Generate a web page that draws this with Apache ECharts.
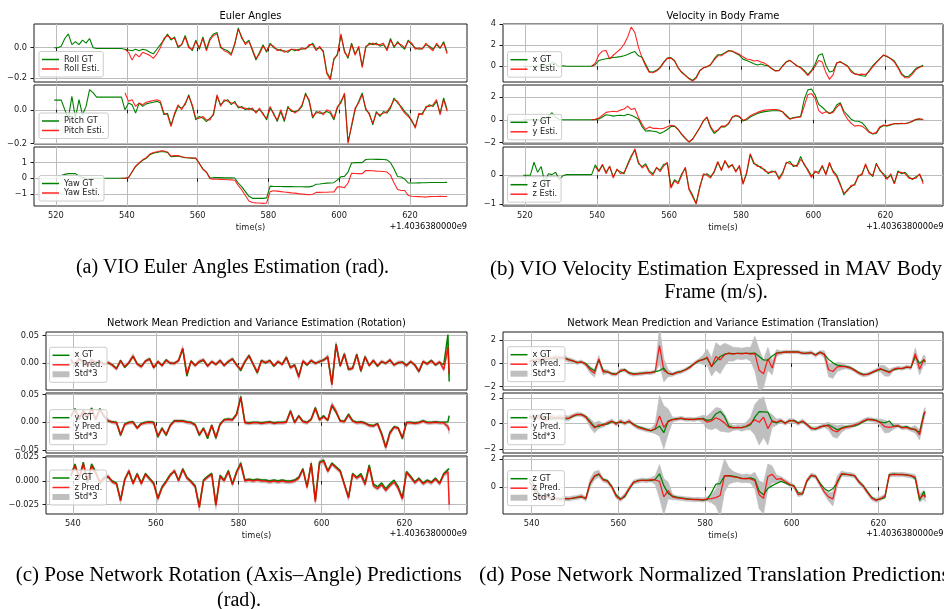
<!DOCTYPE html>
<html>
<head>
<meta charset="utf-8">
<script src="https://cdn.jsdelivr.net/npm/echarts@6/dist/echarts.min.js"></script>
<style>
  html, body { margin: 0; padding: 0; background: #ffffff; }
  #chart { width: 944px; height: 609px; }
</style>
</head>
<body>
<div id="chart"></div>
<script>
// ---------------------------------------------------------------------------
// Sample times (seconds, offset by 1.4036380000e9)
// ---------------------------------------------------------------------------
const timeVIO = Array.from({ length: 112 }, (_, i) => 519.5 + i);           // 519.5 … 630.5
const timeNet = Array.from({ length: 92 }, (_, i) => 539.5 + i).concat([630.8]); // 539.5 … 630.8

const xTicksVIO = [520, 540, 560, 580, 600, 620];
const xTicksNet = [540, 560, 580, 600, 620];
const NA = null;

// ---------------------------------------------------------------------------
// (a) Euler angles [rad]
// ---------------------------------------------------------------------------
const rollGT = [
  0.00, 0.00, 0.01, 0.06, 0.09, 0.02, 0.04, 0.02, 0.05, 0.03,
  0.06, 0.00, -0.005, -0.005, -0.005, -0.005, -0.005, -0.005, -0.005, -0.005,
  -0.01, -0.015, -0.02, -0.01, -0.02, -0.01, -0.015, -0.03, -0.04, -0.01,
  0.02, 0.05, 0.09, 0.05, 0.07, 0.00, 0.02, 0.08, 0.01, -0.02,
  0.05, -0.01, 0.07, -0.01, 0.06, 0.09, 0.10, 0.00, -0.01, -0.02,
  -0.04, 0.02, 0.13, 0.06, 0.03, 0.05, -0.02, -0.08, -0.03, 0.02,
  -0.03, 0.03, 0.00, -0.01, -0.02, -0.02, -0.03, -0.01, -0.02, -0.01,
  -0.01, -0.005, 0.01, 0.03, -0.01, 0.00, -0.02, -0.16, -0.20, -0.08,
  -0.04, 0.08, -0.02, -0.07, 0.03, -0.04, 0.00, -0.12, 0.00, 0.03,
  0.02, 0.03, 0.01, 0.02, -0.01, 0.06, 0.00, 0.04, 0.01, -0.01,
  0.05, 0.02, 0.00, -0.01, -0.005, 0.02, 0.01, -0.01, 0.02, -0.005,
  0.04, -0.03
];
const rollEst = [
  NA, NA, NA, NA, NA, NA, NA, NA, NA, NA,
  NA, NA, NA, NA, NA, NA, NA, NA, NA, NA,
  -0.01, -0.03, -0.08, -0.04, -0.06, -0.03, -0.04, -0.05, -0.07, -0.04,
  0.00, 0.06, 0.08, 0.06, 0.06, 0.01, 0.02, 0.07, 0.00, -0.01,
  0.04, 0.00, 0.06, -0.02, 0.05, 0.08, 0.09, 0.01, -0.02, -0.03,
  -0.05, 0.03, 0.12, 0.07, 0.02, 0.04, -0.01, -0.07, -0.04, 0.01,
  -0.02, 0.02, 0.01, -0.02, -0.01, -0.03, -0.02, -0.01, -0.01, -0.02,
  0.00, -0.01, 0.02, 0.02, -0.02, 0.01, -0.03, -0.17, -0.21, -0.07,
  -0.05, 0.09, -0.03, -0.06, 0.02, -0.05, 0.01, -0.13, 0.01, 0.02,
  0.03, 0.02, 0.02, 0.03, -0.02, 0.05, 0.01, 0.03, 0.02, 0.00,
  0.04, 0.03, -0.01, 0.00, -0.01, 0.03, 0.00, -0.02, 0.03, 0.00,
  0.03, -0.04
];
const pitchGT = [
  0.057, 0.057, 0.057, 0.00, -0.05, 0.08, -0.05, 0.06, -0.03, 0.02,
  0.12, 0.10, 0.075, 0.075, 0.075, 0.075, 0.075, 0.075, 0.075, 0.075,
  0.00, 0.04, 0.03, -0.02, 0.04, 0.02, 0.035, 0.04, 0.045, 0.05,
  0.04, -0.03, -0.02, -0.09, -0.03, 0.02, 0.01, 0.03, 0.09, 0.02,
  -0.06, -0.04, -0.05, -0.07, -0.05, -0.03, 0.08, 0.03, 0.05, 0.06,
  0.03, 0.05, 0.01, 0.02, 0.00, 0.01, 0.00, -0.01, 0.00, -0.02,
  -0.06, 0.01, -0.02, -0.07, -0.01, -0.07, 0.02, -0.01, -0.01, -0.005,
  0.02, 0.10, 0.05, -0.05, -0.01, -0.02, -0.02, -0.01, -0.02, -0.06,
  0.01, 0.05, 0.09, -0.19, -0.10, 0.00, 0.05, 0.10, 0.00, -0.02,
  -0.09, -0.01, -0.04, -0.01, -0.02, 0.01, 0.07, 0.04, 0.02, -0.01,
  -0.03, -0.07, -0.10, -0.03, -0.02, 0.01, 0.03, 0.02, 0.05, -0.02,
  0.07, 0.00
];
const pitchEst = [
  NA, NA, NA, NA, NA, NA, NA, NA, NA, NA,
  NA, NA, NA, NA, NA, NA, NA, NA, NA, NA,
  0.10, 0.05, 0.06, 0.02, 0.04, 0.03, 0.045, 0.05, 0.055, 0.06,
  0.05, -0.02, -0.03, -0.10, -0.02, 0.03, 0.00, 0.04, 0.08, 0.03,
  -0.05, -0.05, -0.04, -0.06, -0.06, -0.02, 0.09, 0.02, 0.06, 0.05,
  0.04, 0.04, 0.02, 0.01, 0.01, 0.00, 0.01, -0.02, 0.01, -0.03,
  -0.05, 0.02, -0.03, -0.06, 0.00, -0.06, 0.01, 0.00, -0.02, 0.00,
  0.03, 0.09, 0.06, -0.04, -0.02, -0.01, -0.03, 0.00, -0.01, -0.05,
  0.02, 0.04, 0.10, -0.20, -0.09, 0.01, 0.04, 0.09, 0.01, -0.03,
  -0.08, -0.02, -0.03, -0.02, -0.01, 0.02, 0.06, 0.05, 0.01, -0.02,
  -0.04, -0.06, -0.11, -0.02, -0.03, 0.02, 0.02, 0.03, 0.06, -0.03,
  0.06, -0.01
];
const yawGT = [
  0.17, 0.17, 0.17, 0.25, 0.30, 0.30, 0.30, 0.15, 0.05, 0.00,
  0.00, 0.00, 0.00, 0.00, 0.00, 0.00, 0.00, 0.00, 0.00, 0.00,
  0.00, 0.05, 0.40, 0.75, 0.95, 1.15, 1.28, 1.50, 1.60, 1.65,
  1.70, 1.70, 1.65, 1.38, 1.40, 1.42, 1.36, 1.31, 1.30, 1.29,
  1.28, 0.95, 0.60, 0.40, 0.02, 0.04, 0.04, 0.04, 0.03, 0.03,
  0.03, 0.02, -0.30, -0.55, -0.85, -1.15, -1.28, -1.28, -1.28, -1.28,
  -1.25, -0.50, -0.52, -0.52, -0.52, -0.53, -0.53, -0.53, -0.54, -0.54,
  -0.54, -0.55, -0.55, -0.50, -0.38, -0.36, -0.33, -0.31, -0.30, -0.28,
  -0.10, 0.10, 0.12, 0.40, 0.98, 1.00, 1.00, 1.00, 1.20, 1.22,
  1.22, 1.21, 1.21, 1.20, 1.18, 1.00, 0.60, 0.12, 0.08, -0.05,
  -0.30, -0.30, -0.30, -0.29, -0.28, -0.28, -0.27, -0.27, -0.27, -0.27,
  -0.27, -0.26
];
const yawEst = [
  NA, NA, NA, NA, NA, NA, NA, NA, NA, NA,
  NA, NA, NA, NA, NA, NA, NA, NA, NA, 0.00,
  0.00, 0.05, 0.42, 0.78, 1.00, 1.18, 1.32, 1.55, 1.65, 1.70,
  1.75, 1.75, 1.68, 1.42, 1.45, 1.45, 1.38, 1.33, 1.31, 1.30,
  1.29, 0.95, 0.58, 0.38, -0.02, -0.05, -0.06, -0.07, -0.08, -0.09,
  -0.10, -0.12, -0.45, -0.75, -1.10, -1.45, -1.55, -1.57, -1.58, -1.60,
  -1.58, -0.85, -0.80, -0.82, -0.85, -0.88, -0.90, -0.93, -0.95, -0.98,
  -1.00, -1.03, -1.05, -1.02, -0.90, -0.90, -0.89, -0.89, -0.88, -0.88,
  -0.55, -0.55, -0.60, -0.30, 0.32, 0.31, 0.30, 0.29, 0.50, 0.49,
  0.48, 0.46, 0.45, 0.43, 0.40, 0.20, -0.30, -0.72, -0.78, -0.78,
  -1.10, -1.15, -1.16, -1.17, -1.18, -1.20, -1.17, -1.16, -1.16, -1.15,
  -1.16, -1.16
];

// ---------------------------------------------------------------------------
// (b) Velocity in body frame [m/s]
// ---------------------------------------------------------------------------
const velXGT = [
  0, 0, 0, 0, 0, 0, 0.05, 0.15, 0.35, 0.25,
  -0.05, 0.05, 0, 0, 0, 0, 0, 0, 0, 0,
  0.15, 0.55, 0.64, 0.72, 0.78, 0.83, 0.87, 0.92, 1.00, 1.12,
  1.28, 1.40, 1.00, 0.85, 0.20, -0.50, -0.55, -0.38, -0.10, 0.40,
  0.78, 0.83, 0.55, -0.15, -0.55, -0.85, -1.15, -1.34, -1.05, -0.40,
  -0.15, -0.05, 0.15, 0.70, 1.10, 1.10, 1.30, 1.50, 1.42, 1.25,
  1.05, 0.68, 0.55, 0.40, 0.25, 0.12, 0.22, 0.10, 0.05, -0.22,
  -0.42, -0.40, 0.05, 0.42, 0.58, 0.30, 0.05, -0.10, -0.40, -0.80,
  -0.40, 0.20, 1.05, 1.20, 0.10, -0.55, -0.45, 0.32, 0.40, 0.25,
  0.05, -0.40, -0.72, -0.80, -0.90, -0.95, -0.40, 0.05, 0.40, 0.75,
  1.05, 0.90, 0.75, 0.50, -0.05, -0.70, -1.00, -0.95, -0.60, -0.20,
  -0.05, 0.10
];
const velXEst = [
  NA, NA, NA, NA, NA, NA, NA, NA, NA, NA,
  NA, NA, NA, NA, NA, NA, NA, NA, NA, 0.00,
  0.30, 1.10, 1.45, 1.50, 0.70, 1.05, 1.35, 1.65, 2.10, 2.80,
  3.75, 3.20, 1.80, 0.80, 0.00, -0.60, -0.62, -0.45, -0.15, 0.35,
  0.75, 0.78, 0.50, -0.15, -0.60, -0.90, -1.20, -1.42, -1.15, -0.45,
  -0.15, -0.05, 0.15, 0.60, 1.00, 1.00, 1.25, 1.45, 1.45, 1.30,
  1.15, 0.90, 0.70, 0.65, 0.50, 0.55, 0.40, 0.30, 0.05, -0.25,
  -0.45, -0.42, 0.00, 0.40, 0.55, 0.30, 0.00, -0.15, -0.50, -0.90,
  -0.50, 0.00, 0.55, 0.40, -0.60, -1.25, -0.80, 0.30, 0.45, 0.20,
  0.00, -0.55, -0.75, -0.80, -0.75, -0.80, -0.50, -0.05, 0.35, 0.70,
  1.08, 0.95, 0.70, 0.40, -0.15, -0.80, -1.10, -1.10, -0.75, -0.30,
  -0.10, 0.00
];
const velYGT = [
  0, 0, 0, 0, 0.05, -0.10, 0.15, 0.30, 0.62, 0.20,
  0.05, 0, 0, 0, 0, 0, 0, 0, 0, 0,
  0.02, 0.08, 0.25, 0.45, 0.40, 0.32, 0.38, 0.40, 0.35, 0.48,
  0.40, 0.25, 0.05, -0.60, -1.00, -0.95, -1.00, -1.05, -1.20, -1.05,
  -0.85, -0.60, -0.55, -0.85, -1.30, -1.65, -1.94, -1.70, -1.20, -0.70,
  -0.10, 0.20, -0.70, -1.20, -0.95, -0.60, -0.62, -0.35, 0.20, 0.35,
  0.25, -0.10, 0.00, 0.25, 0.40, 0.55, 0.65, 0.72, 0.76, 0.79,
  0.80, 0.79, 0.70, 0.40, 0.10, 0.20, 0.25, 0.30, 1.80, 2.62,
  2.70, 2.20, 1.35, 1.10, 0.80, 0.55, 0.75, 1.30, 1.50, 0.75,
  0.40, 0.05, -0.10, -0.12, -0.25, -0.60, -1.05, -1.25, -1.20, -0.70,
  -0.50, -0.55, -0.45, -0.35, -0.32, -0.34, -0.33, -0.25, -0.15, 0.02,
  0.05, 0.05
];
const velYEst = [
  NA, NA, NA, NA, NA, NA, NA, NA, NA, NA,
  NA, NA, NA, NA, NA, NA, NA, NA, NA, 0.00,
  0.05, 0.15, 0.40, 0.65, 0.70, 0.75, 0.70, 0.85, 0.95, 1.20,
  0.90, 1.00, 0.20, -0.40, -0.85, -0.62, -0.75, -0.75, -0.78, -0.75,
  -0.60, -0.47, -0.55, -0.85, -1.25, -1.60, -1.94, -1.70, -1.20, -0.70,
  -0.10, 0.25, -0.60, -1.05, -0.90, -0.55, -0.55, -0.30, 0.25, 0.40,
  0.30, -0.05, 0.10, 0.35, 0.50, 0.65, 0.76, 0.85, 0.88, 0.90,
  0.90, 0.85, 0.70, 0.30, 0.05, 0.15, 0.20, 0.25, 1.20, 2.20,
  2.30, 1.90, 0.80, 0.55, 0.70, 0.55, 0.65, 1.10, 1.40, 0.60,
  0.05, -0.30, -0.55, -0.50, -0.55, -0.80, -1.10, -1.20, -1.10, -0.60,
  -0.45, -0.50, -0.40, -0.35, -0.35, -0.30, -0.35, -0.25, -0.10, 0.05,
  0.10, 0.00
];
const velZGT = [
  0, 0, 0, 0.45, 0.10, 0.30, -0.25, 0.05, 0.02, 0.10,
  -0.15, -0.02, 0.02, 0.02, 0.02, 0.02, 0.02, 0.02, 0.02, 0.02,
  0.36, 0.15, 0.35, 0.10, 0.30, -0.05, 0.18, 0.12, 0.05, 0.40,
  0.68, 0.86, 0.40, 0.30, 0.40, 0.15, 0.05, 0.25, 0.18, 0.38,
  0.40, -0.40, -0.16, -0.25, 0.05, 0.24, -0.45, -0.69, -0.98, -0.40,
  0.00, 0.05, -0.05, 0.10, 0.44, 0.20, 0.48, 0.30, 0.35, 0.15,
  0.30, -0.28, 0.05, 0.71, 0.40, 0.35, 0.25, 0.20, 0.05, 0.15,
  0.10, -0.10, 0.10, 0.42, 0.48, 0.30, 0.35, 0.65, 0.35, 0.20,
  -0.02, 0.10, 0.12, 0.30, 0.05, 0.40, 0.15, 0.00, -0.30, -0.69,
  -0.50, -0.40, -0.30, -0.05, 0.05, 0.35, 0.10, -0.05, 0.42, 0.15,
  0.05, -0.10, 0.00, -0.28, 0.15, 0.05, 0.10, -0.05, -0.15, -0.05,
  0.02, -0.22
];
const velZEst = [
  NA, NA, NA, NA, NA, NA, NA, NA, NA, NA,
  NA, NA, NA, NA, NA, NA, NA, NA, NA, NA,
  0.30, 0.12, 0.38, 0.05, 0.32, -0.10, 0.22, 0.05, 0.10, 0.35,
  0.62, 0.92, 0.45, 0.25, 0.35, 0.10, 0.00, 0.28, 0.12, 0.32,
  0.45, -0.45, -0.20, -0.30, 0.00, 0.28, -0.50, -0.75, -1.00, -0.45,
  0.05, 0.00, -0.10, 0.15, 0.48, 0.15, 0.52, 0.25, 0.38, 0.10,
  0.35, -0.32, 0.10, 0.75, 0.45, 0.30, 0.30, 0.15, 0.10, 0.10,
  0.15, -0.15, 0.05, 0.45, 0.40, 0.35, 0.30, 0.55, 0.40, 0.15,
  -0.08, 0.15, 0.05, 0.35, 0.00, 0.45, 0.10, -0.05, -0.35, -0.62,
  -0.55, -0.35, -0.35, 0.00, 0.00, 0.40, 0.05, 0.00, 0.38, 0.20,
  0.00, -0.15, 0.05, -0.30, 0.10, 0.10, 0.05, -0.10, -0.12, -0.10,
  0.05, -0.30
];

// ---------------------------------------------------------------------------
// (c) Rotation predictions (axis-angle) [rad] with 3-sigma half width
// ---------------------------------------------------------------------------
const rotXGT = [
  0.005, -0.003, 0.008, 0.002, -0.005, 0.006, 0.000, 0.003, -0.002, 0.000,
  -0.003, -0.010, 0.005, -0.008, 0.000, 0.012, -0.001, -0.006, 0.003, 0.008,
  -0.008, 0.002, -0.004, 0.006, -0.001, 0.000, 0.004, 0.026, -0.024, 0.004,
  -0.004, 0.002, 0.005, -0.005, 0.002, -0.002, 0.004, -0.004, 0.002, 0.008,
  -0.003, -0.014, 0.002, 0.014, -0.003, -0.018, 0.005, 0.000, 0.005, -0.006,
  0.002, -0.002, 0.011, -0.008, -0.003, -0.024, 0.003, -0.004, 0.004, 0.000,
  0.002, 0.006, 0.010, -0.038, 0.035, -0.006, 0.017, -0.012, -0.009, 0.016,
  -0.015, 0.012, -0.004, 0.004, -0.006, 0.002, 0.000, 0.005, -0.003, 0.000,
  0.002, -0.004, 0.002, -0.003, -0.016, 0.002, -0.001, 0.005, -0.004, 0.001,
  -0.003, 0.052, -0.034
];
const rotXPred = [
  0.006, -0.004, 0.007, 0.003, -0.006, 0.005, 0.001, 0.002, -0.003, 0.001,
  -0.004, -0.011, 0.004, -0.007, 0.001, 0.013, -0.002, -0.007, 0.004, 0.007,
  -0.009, 0.003, -0.005, 0.005, 0.000, -0.001, 0.005, 0.027, -0.020, 0.003,
  -0.005, 0.003, 0.006, -0.006, 0.003, -0.003, 0.005, -0.005, 0.003, 0.007,
  -0.004, -0.012, 0.003, 0.013, -0.002, -0.017, 0.004, 0.001, 0.004, -0.005,
  0.003, -0.003, 0.010, -0.009, -0.004, -0.026, 0.004, -0.003, 0.005, -0.001,
  0.003, 0.005, 0.012, -0.040, 0.033, -0.005, 0.016, -0.011, -0.010, 0.015,
  -0.014, 0.011, -0.005, 0.005, -0.005, 0.003, -0.001, 0.006, -0.004, 0.001,
  0.001, -0.005, 0.003, -0.004, -0.015, 0.003, -0.002, 0.004, -0.003, 0.002,
  -0.012, 0.030, -0.020
];
const rotXStd = [
  0.003, 0.003, 0.003, 0.003, 0.003, 0.003, 0.003, 0.003, 0.003, 0.003,
  0.003, 0.003, 0.003, 0.003, 0.003, 0.004, 0.003, 0.003, 0.003, 0.003,
  0.003, 0.003, 0.003, 0.003, 0.003, 0.003, 0.003, 0.005, 0.005, 0.003,
  0.003, 0.003, 0.003, 0.003, 0.003, 0.003, 0.003, 0.003, 0.003, 0.003,
  0.003, 0.004, 0.003, 0.004, 0.003, 0.005, 0.003, 0.003, 0.003, 0.003,
  0.003, 0.003, 0.004, 0.003, 0.003, 0.005, 0.003, 0.003, 0.003, 0.003,
  0.003, 0.003, 0.004, 0.006, 0.006, 0.003, 0.004, 0.004, 0.003, 0.004,
  0.004, 0.004, 0.003, 0.003, 0.003, 0.003, 0.003, 0.003, 0.003, 0.003,
  0.003, 0.003, 0.003, 0.003, 0.004, 0.003, 0.003, 0.003, 0.003, 0.003,
  0.004, 0.006, 0.006
];
const rotYGT = [
  0.010, 0.025, 0.005, 0.022, 0.008, 0.026, 0.004, 0.025, 0.010, 0.002,
  0.001, 0.000, -0.024, -0.003, 0.000, 0.001, -0.010, -0.002, 0.000, 0.001,
  0.000, -0.027, -0.010, -0.024, -0.005, 0.003, 0.003, 0.003, 0.001, 0.000,
  -0.004, -0.024, -0.010, -0.030, -0.005, -0.029, -0.003, 0.005, 0.006, 0.005,
  0.015, 0.047, 0.000, -0.001, 0.000, 0.000, -0.001, 0.000, 0.001, -0.001,
  0.000, 0.000, 0.001, 0.021, 0.000, 0.012, 0.002, 0.000, 0.006, 0.027,
  0.005, 0.012, 0.003, 0.030, 0.018, 0.003, 0.002, 0.015, 0.003, 0.000,
  0.001, -0.001, -0.005, -0.006, -0.002, -0.020, -0.045, -0.018, -0.008, -0.010,
  -0.030, 0.000, 0.000, -0.001, 0.000, 0.003, 0.000, 0.000, 0.001, 0.000,
  0.000, 0.001, 0.012
];
const rotYPred = [
  0.012, 0.022, 0.008, 0.020, 0.010, 0.024, 0.006, 0.023, 0.012, 0.003,
  0.000, -0.001, -0.022, -0.004, -0.001, 0.000, -0.011, -0.003, -0.001, 0.000,
  -0.001, -0.025, -0.012, -0.022, -0.006, 0.002, 0.002, 0.002, 0.000, -0.001,
  -0.005, -0.022, -0.012, -0.026, -0.006, -0.027, -0.004, 0.004, 0.005, 0.004,
  0.014, 0.045, -0.001, -0.002, -0.001, -0.001, -0.002, -0.001, 0.000, -0.002,
  -0.001, -0.001, 0.000, 0.020, -0.001, 0.011, 0.001, -0.001, 0.005, 0.025,
  0.004, 0.010, 0.004, 0.032, 0.020, 0.002, 0.001, 0.013, 0.002, -0.001,
  0.000, -0.002, -0.006, -0.007, -0.003, -0.022, -0.046, -0.020, -0.009, -0.011,
  -0.028, -0.001, -0.001, -0.002, -0.001, 0.002, -0.001, -0.001, 0.000, -0.001,
  -0.001, -0.008, -0.015
];
const rotYStd = [
  0.003, 0.003, 0.003, 0.003, 0.003, 0.003, 0.003, 0.003, 0.003, 0.003,
  0.003, 0.003, 0.004, 0.003, 0.003, 0.003, 0.003, 0.003, 0.003, 0.003,
  0.003, 0.004, 0.003, 0.004, 0.003, 0.003, 0.003, 0.003, 0.003, 0.003,
  0.003, 0.004, 0.003, 0.004, 0.003, 0.005, 0.003, 0.003, 0.003, 0.003,
  0.003, 0.004, 0.003, 0.003, 0.003, 0.003, 0.003, 0.003, 0.003, 0.003,
  0.003, 0.003, 0.003, 0.004, 0.003, 0.003, 0.003, 0.003, 0.003, 0.004,
  0.003, 0.003, 0.003, 0.005, 0.004, 0.003, 0.003, 0.003, 0.003, 0.003,
  0.003, 0.003, 0.003, 0.003, 0.003, 0.004, 0.006, 0.004, 0.003, 0.003,
  0.004, 0.003, 0.003, 0.003, 0.003, 0.003, 0.003, 0.003, 0.003, 0.003,
  0.003, 0.005, 0.006
];
const rotZGT = [
  0.005, 0.018, 0.002, 0.020, -0.002, 0.018, 0.010, -0.003, 0.004, 0.004,
  0.000, -0.002, -0.020, 0.002, 0.010, -0.002, 0.008, -0.002, 0.008, 0.003,
  -0.002, -0.018, -0.006, 0.000, 0.007, 0.010, 0.001, 0.013, 0.004, 0.000,
  -0.005, -0.027, 0.001, 0.005, 0.008, -0.025, 0.006, 0.001, 0.011, -0.003,
  0.010, 0.019, 0.001, 0.002, 0.001, 0.002, 0.001, 0.001, 0.000, 0.001,
  0.000, 0.001, 0.000, 0.000, 0.001, 0.004, 0.013, -0.006, 0.019, -0.020,
  0.020, 0.022, 0.011, 0.019, 0.015, 0.011, -0.003, -0.017, 0.008, 0.004,
  0.008, -0.002, 0.017, -0.003, -0.006, -0.002, -0.008, -0.003, 0.001, -0.006,
  -0.018, 0.010, 0.005, -0.001, 0.003, -0.002, 0.001, -0.001, 0.003, -0.002,
  0.008, 0.012, 0.013
];
const rotZPred = [
  0.007, 0.016, 0.004, 0.018, 0.000, 0.016, 0.008, -0.001, 0.002, 0.005,
  -0.001, -0.003, -0.021, 0.001, 0.011, -0.003, 0.007, -0.003, 0.007, 0.002,
  -0.003, -0.019, -0.007, -0.001, 0.006, 0.011, 0.000, 0.012, 0.003, -0.001,
  -0.006, -0.028, 0.000, 0.004, 0.007, -0.026, 0.005, 0.000, 0.010, -0.004,
  0.009, 0.018, 0.000, 0.001, 0.000, 0.001, 0.000, 0.000, -0.001, 0.000,
  -0.001, 0.000, -0.001, -0.001, 0.000, 0.003, 0.012, -0.007, 0.018, -0.022,
  0.019, 0.021, 0.010, 0.018, 0.014, 0.010, -0.004, -0.018, 0.007, 0.003,
  0.006, -0.004, 0.015, -0.005, -0.008, -0.004, -0.010, -0.005, -0.001, -0.008,
  -0.019, 0.009, 0.004, -0.002, 0.002, -0.003, 0.000, -0.002, 0.002, -0.003,
  0.007, 0.010, -0.025
];
const rotZStd = [
  0.002, 0.002, 0.002, 0.002, 0.002, 0.002, 0.002, 0.002, 0.002, 0.002,
  0.002, 0.002, 0.003, 0.002, 0.002, 0.002, 0.002, 0.002, 0.002, 0.002,
  0.002, 0.003, 0.002, 0.002, 0.002, 0.002, 0.002, 0.002, 0.002, 0.002,
  0.002, 0.004, 0.002, 0.002, 0.002, 0.004, 0.002, 0.002, 0.002, 0.002,
  0.002, 0.003, 0.002, 0.002, 0.002, 0.002, 0.002, 0.002, 0.002, 0.002,
  0.002, 0.002, 0.002, 0.002, 0.002, 0.002, 0.002, 0.002, 0.003, 0.003,
  0.003, 0.003, 0.002, 0.002, 0.002, 0.002, 0.002, 0.003, 0.002, 0.002,
  0.002, 0.002, 0.002, 0.002, 0.002, 0.002, 0.002, 0.002, 0.002, 0.002,
  0.003, 0.002, 0.002, 0.002, 0.002, 0.002, 0.002, 0.002, 0.002, 0.002,
  0.002, 0.003, 0.006
];

// ---------------------------------------------------------------------------
// (d) Normalized translation predictions with 3-sigma half width
// ---------------------------------------------------------------------------
const transXGT = [
  0.20, 0.30, 0.10, 0.40, 0.35, 0.45, 0.40, 0.50, 0.45, 0.35,
  0.20, 0.12, 0.10, 0.00, -0.40, -0.65, 0.30, -0.60, -0.75, -0.86,
  -0.92, -0.70, -0.52, -0.80, -0.90, -0.88, -0.85, -0.82, -0.78, -0.70,
  -0.62, -0.40, -0.88, -0.92, -0.78, -0.68, -0.55, -0.30, -0.05, 0.20,
  0.35, 0.43, -0.25, 0.15, 0.60, 0.80, 0.86, 0.85, 0.86, 0.87,
  0.86, 0.86, 0.90, 0.60, 0.30, 0.28, 0.65, 0.90, 0.95, 0.98,
  1.00, 1.00, 1.00, 0.88, 0.90, 0.92, 0.75, 0.98, 0.80, 0.35,
  0.05, -0.15, -0.22, -0.25, -0.35, -0.55, -0.80, -0.95, -0.95, -0.80,
  -0.65, -0.50, -0.60, -0.72, -0.55, -0.45, -0.42, -0.35, -0.35, 0.60,
  0.00, 0.30, 0.10
];
const transXPred = [
  0.25, 0.20, 0.35, 0.30, 0.50, 0.40, 0.55, 0.45, 0.50, 0.30,
  0.25, 0.05, 0.15, -0.10, -0.55, -0.85, 0.40, -0.75, -0.70, -0.92,
  -0.95, -0.60, -0.58, -0.85, -0.95, -0.90, -0.88, -0.80, -0.82, -0.72,
  1.55, -0.60, -0.85, -0.95, -0.80, -0.72, -0.55, -0.35, 0.00, 0.25,
  0.30, 0.55, -0.30, 0.60, 0.30, 0.75, 0.90, 0.80, 0.88, 0.82,
  0.90, 0.80, 0.85, -0.60, -0.90, 0.40, -0.40, 0.90, 0.92, 1.00,
  0.98, 1.00, 0.98, 0.90, 0.88, 0.95, 0.70, 0.95, 0.80, -0.55,
  -0.70, -0.30, -0.25, -0.30, -0.40, -0.60, -0.85, -1.00, -0.95, -0.78,
  -0.60, -0.45, -0.65, -0.80, -0.50, -0.40, -0.45, -0.30, -0.38, 0.85,
  -0.50, 0.35, 0.20
];
const transXStd = [
  0.20, 0.20, 0.20, 0.20, 0.20, 0.20, 0.20, 0.20, 0.20, 0.20,
  0.15, 0.15, 0.15, 0.15, 0.30, 0.35, 0.30, 0.25, 0.15, 0.15,
  0.15, 0.15, 0.15, 0.15, 0.15, 0.15, 0.15, 0.15, 0.15, 0.15,
  1.60, 1.00, 0.30, 0.15, 0.15, 0.15, 0.15, 0.15, 0.15, 0.15,
  0.40, 0.70, 0.80, 1.20, 1.20, 1.00, 0.70, 0.60, 0.50, 0.50,
  0.50, 0.60, 1.50, 1.80, 1.20, 1.00, 0.60, 0.30, 0.15, 0.15,
  0.15, 0.15, 0.15, 0.15, 0.15, 0.15, 0.15, 0.15, 0.30, 0.60,
  0.60, 0.40, 0.30, 0.15, 0.15, 0.15, 0.15, 0.15, 0.15, 0.15,
  0.15, 0.30, 0.45, 0.30, 0.15, 0.15, 0.15, 0.15, 0.15, 0.50,
  0.50, 0.40, 0.40
];
const transYGT = [
  0.60, 0.30, 0.70, 0.40, 0.50, 0.35, 0.45, 0.40, 0.35, 0.40,
  0.55, 0.70, 0.72, 0.55, 0.15, -0.25, -0.25, -0.05, -0.05, 0.15,
  0.05, 0.10, 0.05, 0.15, -0.05, -0.25, -0.35, -0.45, -0.58, -0.45,
  -0.20, -0.72, 0.20, 0.30, 0.38, 0.40, 0.35, 0.30, 0.35, 0.35,
  0.40, 0.25, 0.30, 0.75, 0.95, 0.55, -0.20, -0.32, -0.32, -0.30,
  -0.25, -0.10, 0.50, 0.93, 0.92, 0.90, 0.15, 0.05, 0.20, 0.05,
  0.20, 0.25, 0.05, 0.15, -0.05, -0.35, -0.45, -0.25, -0.20, -0.10,
  -0.30, -0.50, -0.35, -0.25, -0.20, -0.20, -0.05, 0.15, 0.30, 0.32,
  0.25, 0.10, 0.05, 0.20, -0.20, -0.20, -0.30, -0.25, -0.40, -0.50,
  -0.70, 0.80, 0.90
];
const transYPred = [
  0.50, 0.55, 0.45, 0.50, 0.30, 0.55, 0.40, 0.50, 0.45, 0.40,
  0.60, 0.72, 0.70, 0.50, 0.05, -0.35, -0.10, -0.15, 0.05, 0.20,
  -0.05, 0.20, 0.00, 0.20, -0.10, -0.30, -0.40, -0.50, -0.55, -0.40,
  0.60, -0.30, 0.15, 0.30, 0.35, 0.42, 0.32, 0.35, 0.30, 0.38,
  0.35, 0.10, 0.20, 0.45, 0.30, 0.05, -0.30, -0.35, -0.30, -0.35,
  -0.20, 0.00, 0.30, 0.10, 0.50, -0.40, 0.20, 0.10, 0.25, 0.00,
  0.25, 0.20, 0.00, 0.20, -0.10, -0.40, -0.40, -0.30, -0.15, -0.20,
  -0.55, -0.66, -0.40, -0.30, -0.25, -0.10, 0.00, 0.20, 0.35, 0.28,
  0.22, 0.05, -0.25, -0.30, -0.25, -0.15, -0.35, -0.30, -0.45, -0.45,
  -0.90, 0.70, 0.95
];
const transYStd = [
  0.20, 0.20, 0.20, 0.20, 0.20, 0.20, 0.20, 0.20, 0.20, 0.20,
  0.15, 0.15, 0.15, 0.15, 0.35, 0.40, 0.30, 0.15, 0.15, 0.15,
  0.15, 0.15, 0.15, 0.15, 0.15, 0.15, 0.15, 0.15, 0.15, 0.40,
  1.60, 1.70, 1.00, 0.20, 0.15, 0.15, 0.15, 0.15, 0.15, 0.15,
  0.30, 0.50, 0.70, 0.80, 0.90, 0.70, 0.40, 0.20, 0.20, 0.25,
  0.30, 0.50, 1.20, 1.80, 1.60, 1.30, 0.50, 0.25, 0.15, 0.15,
  0.15, 0.15, 0.15, 0.15, 0.15, 0.15, 0.15, 0.15, 0.15, 0.30,
  0.50, 0.50, 0.30, 0.15, 0.15, 0.15, 0.15, 0.15, 0.15, 0.15,
  0.15, 0.30, 0.50, 0.40, 0.20, 0.15, 0.15, 0.15, 0.15, 0.30,
  0.40, 0.40, 0.30
];
const transZGT = [
  0.60, 0.20, -0.40, -0.60, -0.70, -0.75, -0.80, -0.82, -0.85, -0.82,
  -0.80, -0.72, -0.70, -0.80, 0.25, 0.75, 0.90, 0.55, 0.45, 0.05,
  -0.55, -0.85, -0.70, -0.15, 0.30, 0.47, 0.48, 0.50, 0.45, 0.55,
  0.94, 0.10, -0.45, -0.65, -0.72, -0.78, -0.82, -0.88, -0.88, -0.90,
  -0.94, -0.90, -0.40, 0.20, 0.25, 0.80, 0.82, 0.78, 0.70, 0.62,
  0.60, 0.65, 0.55, -0.30, -0.55, -0.10, 0.10, 0.25, 0.40, 0.30,
  0.15, 0.10, -0.40, -0.50, 0.40, 0.82, 0.78, 0.30, -0.10, -0.30,
  -0.12, 0.30, 0.90, 0.92, 0.85, 0.82, 0.40, 0.10, -0.35, -0.75,
  -0.92, -0.85, -0.75, 0.88, 0.92, 0.90, 0.88, 0.86, 0.82, 0.60,
  -0.95, -0.30, -0.70
];
const transZPred = [
  0.40, -0.20, -0.60, -0.75, -0.65, -0.85, -0.80, -0.90, -0.80, -0.85,
  -0.78, -0.75, -0.65, -0.85, 0.30, 0.80, 0.95, 0.50, 0.40, 0.00,
  -0.65, -0.90, -0.60, -0.10, 0.35, 0.42, 0.50, 0.45, 0.52, 0.50,
  0.40, -0.70, -0.25, -0.70, -0.78, -0.80, -0.85, -0.86, -0.90, -0.88,
  -0.92, -0.85, -0.82, -0.75, -0.60, 0.82, 0.80, 0.72, 0.68, 0.60,
  0.62, 0.58, 0.45, -0.55, -0.80, 0.75, 0.90, 0.55, 0.60, 0.40,
  0.20, 0.05, -0.55, -0.45, 0.45, 0.85, 0.75, 0.20, -0.35, -0.70,
  -0.85, 0.40, 0.95, 0.90, 0.88, 0.80, 0.35, 0.05, -0.40, -0.80,
  -0.95, -0.82, -0.65, 0.85, 0.90, 0.88, 0.90, 0.85, 0.80, 0.70,
  -0.80, -0.55, -0.75
];
const transZStd = [
  0.15, 0.15, 0.15, 0.15, 0.15, 0.15, 0.15, 0.15, 0.15, 0.15,
  0.15, 0.15, 0.15, 0.15, 0.30, 0.30, 0.25, 0.15, 0.15, 0.15,
  0.15, 0.15, 0.15, 0.15, 0.15, 0.15, 0.15, 0.15, 0.15, 0.30,
  1.20, 1.30, 0.60, 0.20, 0.15, 0.15, 0.15, 0.15, 0.15, 0.15,
  0.15, 0.15, 0.30, 0.60, 1.50, 1.20, 0.60, 0.40, 0.30, 0.30,
  0.30, 0.30, 0.60, 1.00, 1.10, 0.90, 0.60, 0.30, 0.15, 0.15,
  0.15, 0.15, 0.15, 0.15, 0.15, 0.15, 0.15, 0.15, 0.15, 0.30,
  0.50, 0.40, 0.20, 0.15, 0.15, 0.15, 0.15, 0.15, 0.15, 0.15,
  0.15, 0.15, 0.15, 0.15, 0.15, 0.15, 0.15, 0.15, 0.15, 0.20,
  0.30, 0.30, 0.30
];

// y tick values per panel
const yTicksAngle = [-0.2, 0];
const yTicksYaw = [-1, 0, 1];
const yTicksVelX = [0, 2, 4];
const yTicksVelY = [-2, 0, 2];
const yTicksVelZ = [-1, 0];
const yTicksRot = [-0.05, 0, 0.05];
const yTicksRotZ = [-0.025, 0, 0.025];
const yTicksTrans = [-2, 0, 2];
const yTicksTransZ = [0, 2];

// ---------------------------------------------------------------------------
// Layout and styling
// ---------------------------------------------------------------------------
const FONT = 'DejaVu Sans';
const SERIF = 'Liberation Serif';
const GREEN = '#008000';
const RED = '#ff0000';
const BAND = '#bfbfbf';
const TICK_FS = 8.25;
const CAPTION_FS = 20;
const LINE_ICON = 'path://M0,0H34V3H0Z';   // thin bar used as a line handle in legends

const columns = {
  a: { left: 34, width: 433, xMin: 513.8, xMax: 636.1, ticks: xTicksVIO, time: timeVIO, rows: [[24, 58], [85, 59], [147, 59]], legendLeft: 39, lineWidth: 1.1 },
  b: { left: 503, width: 440, xMin: 513.9, xMax: 636.0, ticks: xTicksVIO, time: timeVIO, rows: [[24, 58], [85, 59], [147, 59]], legendLeft: 507.5, lineWidth: 1.1 },
  c: { left: 46, width: 421, xMin: 533.5, xMax: 635.1, ticks: xTicksNet, time: timeNet, rows: [[332, 58], [393, 60], [456, 58]], legendLeft: 49.5, lineWidth: 1.5 },
  d: { left: 503, width: 440, xMin: 533.4, xMax: 634.9, ticks: xTicksNet, time: timeNet, rows: [[332, 58], [393, 60], [456, 58]], legendLeft: 507.5, lineWidth: 1.25 }
};

const panels = [
  { col: 'a', row: 0, yMin: -0.224, yMax: 0.155, yTicks: yTicksAngle, dec: 1, legendTop: 51.5,
    lines: [['Roll GT', rollGT], ['Roll Esti.', rollEst]] },
  { col: 'a', row: 1, yMin: -0.203, yMax: 0.147, yTicks: yTicksAngle, dec: 1, legendTop: 113,
    lines: [['Pitch GT', pitchGT], ['Pitch Esti.', pitchEst]] },
  { col: 'a', row: 2, yMin: -1.77, yMax: 2.0, yTicks: yTicksYaw, dec: 0, legendTop: 175.5,
    lines: [['Yaw GT', yawGT], ['Yaw Esti.', yawEst]] },
  { col: 'b', row: 0, yMin: -1.5, yMax: 4.03, yTicks: yTicksVelX, dec: 0, legendTop: 51.7,
    lines: [['x GT', velXGT], ['x Esti.', velXEst]] },
  { col: 'b', row: 1, yMin: -2.12, yMax: 3.05, yTicks: yTicksVelY, dec: 0, legendTop: 114.3,
    lines: [['y GT', velYGT], ['y Esti.', velYEst]] },
  { col: 'b', row: 2, yMin: -1.07, yMax: 0.98, yTicks: yTicksVelZ, dec: 0, legendTop: 176.7,
    lines: [['z GT', velZGT], ['z Esti.', velZEst]] },
  { col: 'c', row: 0, yMin: -0.0494, yMax: 0.0568, yTicks: yTicksRot, dec: 2, legendTop: 347.3,
    band: rotXStd, lines: [['x GT', rotXGT], ['x Pred.', rotXPred]] },
  { col: 'c', row: 1, yMin: -0.0557, yMax: 0.0531, yTicks: yTicksRot, dec: 2, legendTop: 409.7,
    band: rotYStd, lines: [['y GT', rotYGT], ['y Pred.', rotYPred]] },
  { col: 'c', row: 2, yMin: -0.0348, yMax: 0.0264, yTicks: yTicksRotZ, dec: 3, legendTop: 470,
    band: rotZStd, lines: [['z GT', rotZGT], ['z Pred.', rotZPred]] },
  { col: 'd', row: 0, yMin: -2.3, yMax: 2.72, yTicks: yTicksTrans, dec: 0, legendTop: 346.7,
    band: transXStd, lines: [['x GT', transXGT], ['x Pred.', transXPred]] },
  { col: 'd', row: 1, yMin: -2.32, yMax: 2.4, yTicks: yTicksTrans, dec: 0, legendTop: 409.7,
    band: transYStd, lines: [['y GT', transYGT], ['y Pred.', transYPred]] },
  { col: 'd', row: 2, yMin: -1.92, yMax: 2.21, yTicks: yTicksTransZ, dec: 0, legendTop: 470.7,
    band: transZStd, lines: [['z GT', transZGT], ['z Pred.', transZPred]] }
];

function pairs(times, vals) {
  return times.map((t, k) => [t, vals[k]]);
}
function tickFormatter(dec) {
  return v => (dec > 0 ? v.toFixed(dec) : String(Math.round(v))).replace('-', '\u2212');
}

const grids = [], xAxes = [], yAxes = [], series = [], legends = [];

panels.forEach((p, i) => {
  const col = columns[p.col];
  const [top, height] = col.rows[p.row];
  const isBottom = p.row === 2;

  grids.push({
    left: col.left, top: top, width: col.width, height: height,
    show: true, borderColor: '#1a1a1a', borderWidth: 1, backgroundColor: 'transparent'
  });

  xAxes.push({
    type: 'value', gridIndex: i, min: col.xMin, max: col.xMax,
    axisLine: { show: false },
    axisTick: { show: true, inside: false, length: 3.5, lineStyle: { color: '#1a1a1a', width: 1 }, customValues: col.ticks },
    axisLabel: { show: isBottom, customValues: col.ticks, margin: 6, fontSize: TICK_FS, fontFamily: FONT, color: '#1a1a1a',
                 formatter: v => String(Math.round(v)) },
    splitLine: { show: true, lineStyle: { color: '#bcbcbc', width: 1 } },
    name: isBottom ? 'time(s)' : '', nameLocation: 'middle', nameGap: 18,
    nameTextStyle: { fontSize: TICK_FS, fontFamily: FONT, color: '#1a1a1a' }
  });

  yAxes.push({
    type: 'value', gridIndex: i, min: p.yMin, max: p.yMax,
    axisLine: { show: false },
    axisTick: { show: true, inside: false, length: 3.5, lineStyle: { color: '#1a1a1a', width: 1 }, customValues: p.yTicks },
    axisLabel: { show: true, customValues: p.yTicks, margin: 7, fontSize: TICK_FS, fontFamily: FONT, color: '#1a1a1a',
                 formatter: tickFormatter(p.dec) },
    splitLine: { show: true, lineStyle: { color: '#bcbcbc', width: 1 } }
  });

  const legendData = [];
  if (p.band) {
    // mean ± 3σ envelope, drawn as one polygon through the axis scales
    const times = col.time;
    const pred = p.lines[1][1];
    const std = p.band;
    series.push({
      type: 'custom', name: 'Std*3', xAxisIndex: i, yAxisIndex: i,
      data: pairs(times, pred).slice(0, 1), clip: true, silent: true, z: 1,
      itemStyle: { color: BAND },
      renderItem: (params, api) => {
        const upper = [], lower = [];
        for (let k = 0; k < times.length; k++) {
          upper.push(api.coord([times[k], pred[k] + std[k]]));
          lower.push(api.coord([times[k], pred[k] - std[k]]));
        }
        return {
          type: 'polygon',
          shape: { points: upper.concat(lower.reverse()) },
          style: { fill: BAND, stroke: BAND, lineWidth: 0.6 }
        };
      }
    });
  }
  p.lines.forEach(([name, vals], k) => {
    const color = k === 0 ? GREEN : RED;
    const opacity = k === 0 ? 1 : 0.85;
    series.push({
      type: 'line', name: name, xAxisIndex: i, yAxisIndex: i,
      data: pairs(col.time, vals), symbol: 'none', showSymbol: false,
      lineStyle: { color: color, width: col.lineWidth, opacity: opacity },
      itemStyle: { color: color }, silent: true, z: 2 + k
    });
    legendData.push({ name: name, icon: LINE_ICON, itemStyle: { color: color, opacity: opacity, borderWidth: 0 } });
  });
  if (p.band) legendData.push({ name: 'Std*3', icon: 'rect', itemStyle: { color: BAND, borderWidth: 0 } });

  legends.push({
    data: legendData, orient: 'vertical', left: col.legendLeft, top: p.legendTop,
    itemWidth: 17, itemHeight: 6, itemGap: 1.5,
    padding: [4, 4, 4, 3],
    backgroundColor: 'rgba(255,255,255,0.8)', borderColor: '#cccccc', borderWidth: 1, borderRadius: 2,
    selectedMode: false, symbolKeepAspect: true,
    textStyle: { fontSize: TICK_FS, fontFamily: FONT, color: '#1a1a1a' }
  });
});

// Titles, axis offset notes and sub-figure captions
function label(text, x, y, size, family, align) {
  return {
    type: 'text', x: x, y: y, silent: true,
    style: { text: text, fontSize: size, fontFamily: family, fill: '#000000',
             align: align, verticalAlign: 'middle', textAlign: align, textVerticalAlign: 'middle' }
  };
}
// A caption line stretched horizontally so that it runs from x0 to x1
const measureCtx = document.createElement('canvas').getContext('2d');
function fittedLine(text, x0, x1, y) {
  measureCtx.font = CAPTION_FS + 'px "' + SERIF + '"';
  const natural = measureCtx.measureText(text).width;
  const el = label(text, x0, y, CAPTION_FS, SERIF, 'left');
  el.scaleX = (x1 - x0) / natural;
  return el;
}

const graphics = [
  label('Euler Angles', 250.5, 16, 9.9, FONT, 'center'),
  label('Velocity in Body Frame', 723, 16, 9.9, FONT, 'center'),
  label('Network Mean Prediction and Variance Estimation (Rotation)', 256.5, 323.3, 9.9, FONT, 'center'),
  label('Network Mean Prediction and Variance Estimation (Translation)', 723, 323.3, 9.9, FONT, 'center'),
  label('+1.4036380000e9', 467, 227, TICK_FS, FONT, 'right'),
  label('+1.4036380000e9', 943.5, 227, TICK_FS, FONT, 'right'),
  label('+1.4036380000e9', 467, 534.3, TICK_FS, FONT, 'right'),
  label('+1.4036380000e9', 943.5, 534.3, TICK_FS, FONT, 'right'),
  label('(a) VIO Euler Angles Estimation (rad).', 232.5, 268, CAPTION_FS, SERIF, 'center'),
  fittedLine('(b) VIO Velocity Estimation Expressed in MAV Body', 490, 942, 270),
  label('Frame (m/s).', 716, 293, CAPTION_FS, SERIF, 'center'),
  fittedLine('(c) Pose Network Rotation (Axis\u2013Angle) Predictions', 15.7, 461.7, 575.5),
  label('(rad).', 239, 600.5, CAPTION_FS, SERIF, 'center'),
  fittedLine('(d) Pose Network Normalized Translation Predictions', 479, 950, 575.5)
];

const chart = echarts.init(document.getElementById('chart'), null, { renderer: 'canvas' });
chart.setOption({
  animation: false,
  backgroundColor: '#ffffff',
  textStyle: { fontFamily: FONT },
  grid: grids,
  xAxis: xAxes,
  yAxis: yAxes,
  legend: legends,
  series: series,
  graphic: graphics
});
</script>
</body>
</html>
